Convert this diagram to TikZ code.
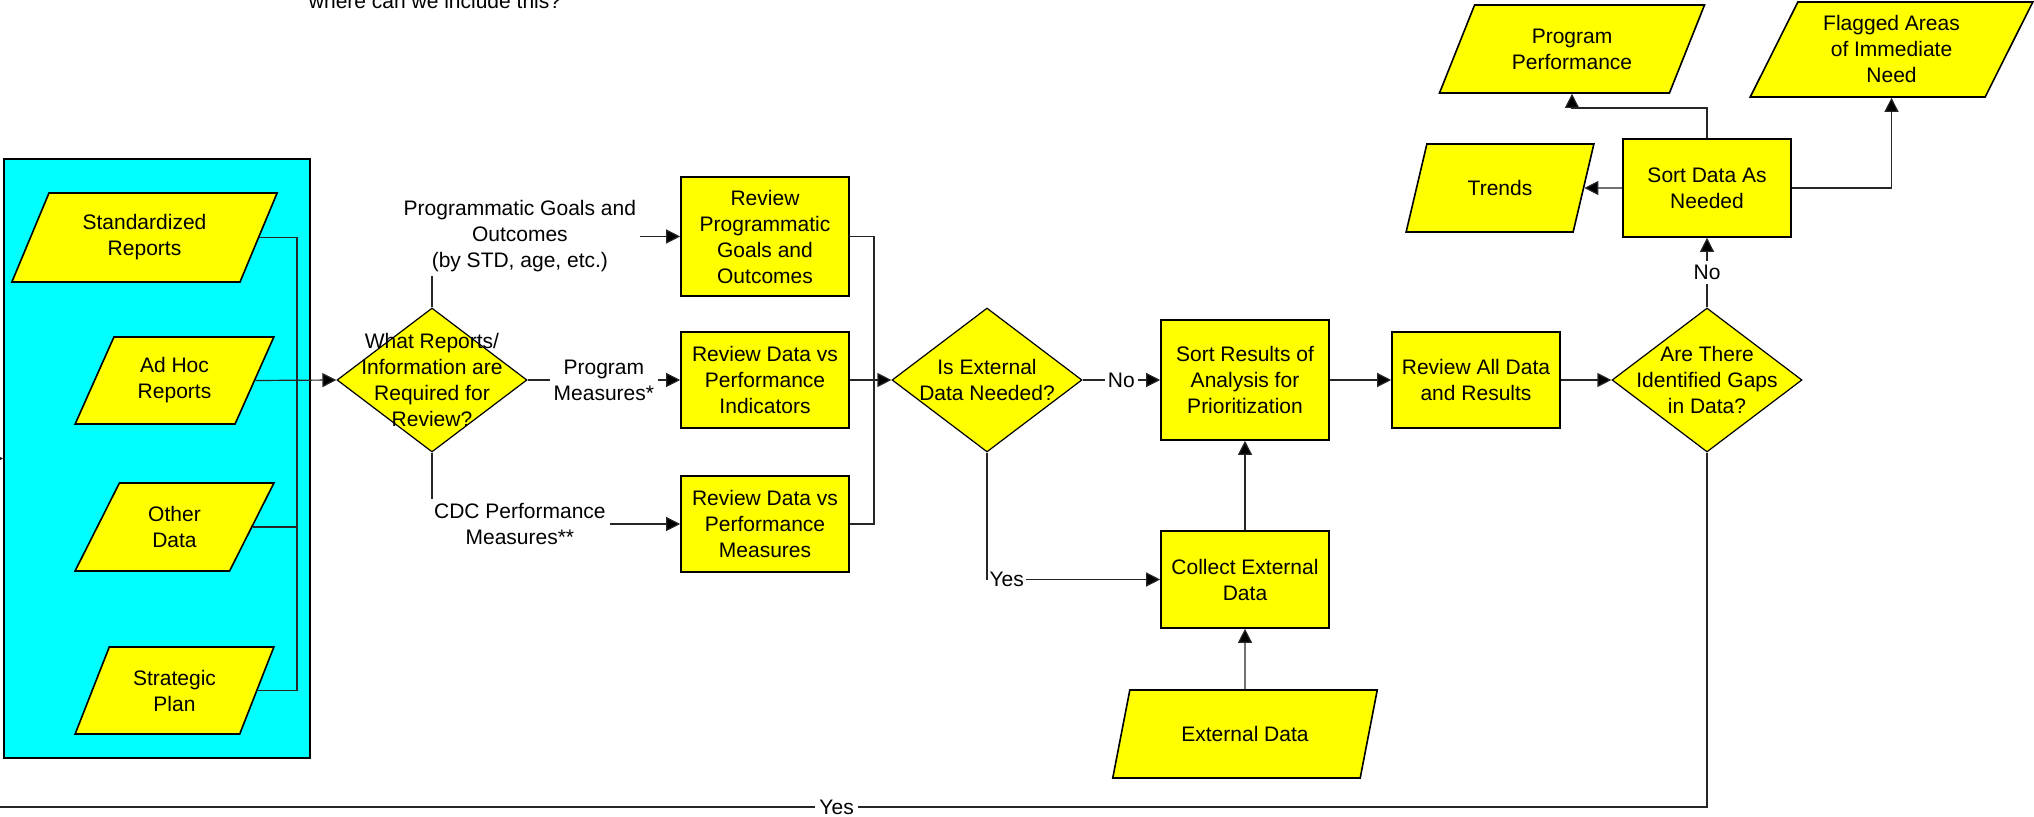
\documentclass[tikz,border=0pt]{standalone}
\usepackage{fontspec}
\setmainfont{Liberation Sans}
\usetikzlibrary{arrows.meta,shapes.geometric}
\definecolor{boxyellow}{RGB}{255,255,0}
\definecolor{groupcyan}{RGB}{0,255,255}

\begin{document}
\begin{tikzpicture}[x=0.5pt, y=-0.5pt, font=\fontsize{10.5}{13}\selectfont]

\tikzstyle{process}=[rectangle, draw, line width=0.8pt, fill=boxyellow, minimum width=84pt, align=center, inner sep=1pt]
\tikzstyle{data}=[trapezium, trapezium left angle=63.4, trapezium right angle=116.6, trapezium stretches=true, draw, line width=0.8pt, fill=boxyellow, align=center, inner sep=1pt]
\tikzstyle{decision}=[diamond, draw, line width=0.6pt, fill=boxyellow, minimum width=95pt, minimum height=72pt, inner sep=0pt]
\tikzstyle{wire}=[draw=black!85, line width=0.6pt]
\tikzstyle{arrow}=[wire, -{Triangle[length=7pt, width=7pt, fill=black]}]
\tikzstyle{tag}=[fill=white, inner sep=2pt, align=center]

\useasboundingbox (0,0) rectangle (2034,817);

\node (note) [anchor=base] at (435,9) {where can we include this?};

\node (inputs) [rectangle, draw, line width=0.8pt, fill=groupcyan, minimum width=153pt, minimum height=299.5pt] at (157,458.5) {};
\node (std) [data, minimum width=133.5pt, minimum height=44.5pt] at (144.5,237.5) {Standardized\\Reports};
\node (adhoc) [data, minimum width=99.5pt, minimum height=43.5pt] at (174.5,380.5) {Ad Hoc\\Reports};
\node (other) [data, minimum width=99.5pt, minimum height=44pt] at (174.5,527) {Other\\Data};
\node (plan) [data, minimum width=99.5pt, minimum height=43.5pt] at (174.5,690.5) {Strategic\\Plan};

\coordinate (bus) at (297,380);
\draw [wire] (std.east) -| (bus);
\draw [wire] (other.east) -| (bus);
\draw [wire] (plan.east) -| (bus);

\node (what) [decision, label={[align=center]center:What Reports/\\Information are\\Required for\\Review?}] at (432,380) {};
\draw [arrow] (adhoc.east) -- (what.west);

\node (revGoals) [process, minimum height=59.5pt] at (765,236.5) {Review\\Programmatic\\Goals and\\Outcomes};
\node (revInd) [process, minimum height=48pt] at (765,380) {Review Data vs\\Performance\\Indicators};
\node (revMeas) [process, minimum height=48pt] at (765,524) {Review Data vs\\Performance\\Measures};

\draw [arrow] (what.north) |- node [tag, pos=0.677] {Programmatic Goals and\\Outcomes\\(by STD, age, etc.)} (revGoals.west);
\draw [arrow] (what.east) -- node [tag] {Program\\Measures*} (revInd.west);
\draw [arrow] (what.south) |- node [tag, pos=0.677] {CDC Performance\\Measures**} (revMeas.west);

\coordinate (join) at (874,380);
\draw [wire] (revGoals.east) -| (join);
\draw [wire] (revMeas.east) -| (join);

\node (ext) [decision, label={[align=center]center:Is External\\Data Needed?}] at (987,380) {};
\draw [arrow] (revInd.east) -- (ext.west);

\node (sortRes) [process, minimum height=60pt] at (1245,380) {Sort Results of\\Analysis for\\Prioritization};
\node (collect) [process, minimum height=48.5pt] at (1245,579.5) {Collect External\\Data};
\node (extData) [data, minimum width=133pt, minimum height=44pt] at (1245,734) {External Data};

\draw [arrow] (ext.east) -- node [tag, inner sep=1.5pt] {No} (sortRes.west);
\draw [arrow] (ext.south) |- node [tag, inner sep=1pt, pos=0.5, anchor=west] {Yes} (collect.west);
\draw [arrow] (collect) -- (sortRes);
\draw [arrow] (extData) -- (collect);

\node (reviewAll) [process, minimum height=48pt] at (1476,380) {Review All Data\\and Results};
\node (gaps) [decision, label={[align=center]center:Are There\\Identified Gaps\\in Data?}] at (1707,380) {};
\draw [arrow] (sortRes) -- (reviewAll);
\draw [arrow] (reviewAll) -- (gaps);

\node (sortData) [process, minimum height=49pt] at (1707,188) {Sort Data As\\Needed};
\node (trends) [data, minimum width=94pt, minimum height=44pt] at (1500,188) {Trends};
\node (progPerf) [data, minimum width=133pt, minimum height=44pt] at (1572,49) {Program\\Performance};
\node (flagged) [data, minimum width=141.5pt, minimum height=47.5pt] at (1891.5,49.5) {Flagged Areas\\of Immediate\\Need};

\draw [arrow] (gaps) -- node [tag] {No} (sortData);
\draw [arrow] (sortData) -- (trends);
\coordinate (ppTurn) at (1707,108);
\draw [arrow] (sortData.north) -- (ppTurn) -| (progPerf);
\draw [arrow] (sortData.east) -| (flagged);

\coordinate (loopLeft) at (-20,807);
\draw [arrow] (gaps.south) |- node [tag, pos=0.752] {Yes} (loopLeft) |- (inputs.west);

\end{tikzpicture}
\end{document}
